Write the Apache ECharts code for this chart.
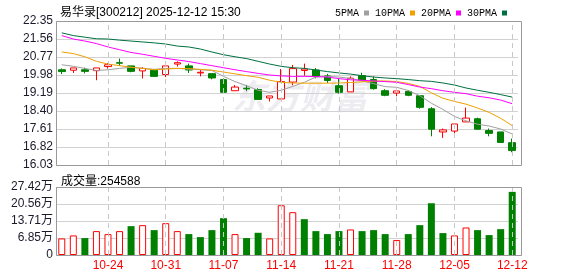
<!DOCTYPE html>
<html><head><meta charset="utf-8">
<script src="https://cdn.jsdelivr.net/npm/echarts@6/dist/echarts.min.js"></script>
<style>html,body{margin:0;padding:0;background:#fff}#c{width:578px;height:276px}</style>
</head><body><div id="c"></div>
<script>
const titleText = '易华录[300212] 2025-12-12 15:30';
const dates = ['10-20','10-21','10-22','10-23','10-24','10-27','10-28','10-29','10-30','10-31',
  '11-03','11-04','11-05','11-06','11-07','11-10','11-11','11-12','11-13','11-14',
  '11-17','11-18','11-19','11-20','11-21','11-24','11-25','11-26','11-27','11-28',
  '12-01','12-02','12-03','12-04','12-05','12-08','12-09','12-10','12-11','12-12'];
// [open, close, low, high]
const candles = [
  [20.21,20.13,20.02,20.27],[20.19,20.29,20.07,20.29],[20.21,20.14,20.05,20.30],[20.17,20.29,19.75,20.29],
  [20.35,20.43,20.26,20.51],[20.52,20.50,20.39,20.70],[20.38,20.14,20.10,20.38],[20.16,20.27,19.83,20.32],
  [20.19,19.92,19.92,20.19],[20.00,20.38,19.89,20.48],[20.46,20.52,20.35,20.58],[20.38,20.20,20.07,20.48],
  [20.07,20.10,19.92,20.20],[20.04,19.85,19.79,20.04],[19.78,19.22,19.22,19.83],[19.29,19.45,19.29,19.54],
  [19.40,19.37,19.27,19.54],[19.34,18.91,18.91,19.40],[18.97,19.06,18.82,19.06],[18.93,19.69,18.93,20.24],
  [19.67,20.26,19.53,20.42],[20.18,20.24,19.95,20.48],[20.20,19.91,19.83,20.29],[19.94,19.74,19.63,20.03],
  [19.51,19.22,19.16,19.83],[19.24,19.84,19.24,19.92],[19.95,19.76,19.71,20.08],[19.78,19.38,19.34,19.92],
  [19.29,19.09,19.05,19.36],[19.19,19.28,19.05,19.31],[19.26,19.09,19.05,19.31],[19.07,18.56,18.50,19.07],
  [18.50,17.60,17.29,18.57],[17.48,17.57,17.22,17.63],[17.52,17.83,17.29,17.83],[17.92,18.09,17.92,18.55],
  [18.06,17.60,17.60,18.11],[17.54,17.42,17.29,17.63],[17.48,17.02,17.02,17.48],[17.01,16.67,16.59,17.19]
];
const ma5 = [20.43,20.36,20.27,20.18,20.21,20.27,20.32,20.27,20.23,20.27,
  20.27,20.24,20.21,20.18,19.92,19.69,19.51,19.31,19.22,19.31,
  19.48,19.66,19.89,19.92,19.89,19.83,19.72,19.60,19.47,19.44,
  19.30,19.07,18.74,18.47,18.16,17.97,17.82,17.74,17.61,17.39];
const ma10 = [20.99,20.92,20.78,20.58,20.46,20.39,20.32,20.27,20.21,20.24,
  20.27,20.26,20.23,20.19,20.11,20.03,19.95,19.88,19.75,19.66,
  19.63,19.62,19.62,19.62,19.63,19.65,19.68,19.71,19.72,19.69,
  19.61,19.48,19.20,18.96,18.82,18.70,18.53,18.34,18.08,17.76];
const ma20 = [21.71,21.56,21.47,21.36,21.21,21.09,20.97,20.89,20.80,20.71,
  20.64,20.57,20.48,20.39,20.30,20.21,20.13,20.05,19.98,19.94,
  19.92,19.92,19.91,19.89,19.82,19.77,19.75,19.72,19.69,19.66,
  19.56,19.45,19.38,19.29,19.22,19.16,19.05,18.98,18.88,18.72];
const ma30 = [21.83,21.71,21.64,21.57,21.56,21.51,21.47,21.43,21.39,21.34,
  21.25,21.21,21.12,20.99,20.87,20.78,20.70,20.58,20.46,20.36,
  20.30,20.27,20.20,20.13,20.07,20.02,19.95,19.89,19.85,19.82,
  19.78,19.73,19.70,19.63,19.54,19.41,19.31,19.22,19.12,19.01];
// volume in 万 (10k shares)
const volumes = [6.69,7.89,6.82,9.63,8.43,9.63,11.64,12.04,10.03,12.84,
  9.63,8.43,7.22,10.03,14.85,8.43,6.82,8.96,6.69,20.06,
  17.26,14.45,9.63,8.43,9.63,10.30,9.63,10.03,8.43,6.02,
  8.43,12.04,20.87,8.83,7.89,11.10,10.03,8.03,10.43,25.4588];
const volUp = [1,1,0,1,1,1,0,1,0,1, 1,0,0,0,0,1,0,0,1,1, 1,0,0,0,0,1,0,0,0,1, 0,0,0,0,1,1,0,0,0,0];
const lastVolume = 254588;
const priceTicks = ['16.03','16.82','17.61','18.40','19.19','19.98','20.77','21.56','22.35'];
const volTicks = ['0','6.85万','13.71万','20.56万','27.42万'];
const volTickValues = [0, 6.855, 13.71, 20.565, 27.42];
const labelDates = ['10-24','10-31','11-07','11-14','11-21','11-28','12-05','12-12'];
const maNames = ['5PMA','10PMA','20PMA','30PMA'];
const maColors = ['#a0a0a0','#f0a000','#ff00ff','#007040'];

const RED = '#ff0000', GREEN = '#008000';
const FONT = "'Liberation Sans','Noto Sans CJK SC',sans-serif";
const MONO = "'Liberation Mono','DejaVu Sans Mono',monospace";
const chart = echarts.init(document.getElementById('c'), null, {renderer: 'canvas'});

const pMin = parseFloat(priceTicks[0]);
const pMax = parseFloat(priceTicks[priceTicks.length - 1]);
const pInt = (pMax - pMin) / (priceTicks.length - 1);

const vlineMark = {
  symbol: ['none', 'none'], silent: true, animation: false,
  label: {show: false},
  lineStyle: {color: '#c8c8c8', type: [5, 4], width: 1},
  data: labelDates.map(d => ({xAxis: d}))
};

const maSeries = [ma5, ma10, ma20, ma30].map((d, i) => ({
  name: maNames[i], type: 'line', data: d, xAxisIndex: 0, yAxisIndex: 0,
  symbol: 'none', smooth: false, animation: false,
  lineStyle: {color: maColors[i], width: 1}, itemStyle: {color: maColors[i]}, z: 3
}));

const option = {
  animation: false,
  backgroundColor: '#fff',
  textStyle: {fontFamily: FONT},
  title: [
    {text: titleText, left: 55, top: 2, textStyle: {fontSize: 12, fontWeight: 'normal', color: '#000', fontFamily: FONT}},
    {text: '成交量:' + lastVolume, left: 56, top: 171, textStyle: {fontSize: 12, fontWeight: 'normal', color: '#000', fontFamily: FONT}}
  ],
  legend: {
    right: 66, top: 3, align: 'right', itemWidth: 5, itemHeight: 5, itemGap: 6,
    textStyle: {fontSize: 10, color: '#000', fontFamily: MONO},
    data: maNames.map((n, i) => ({name: n, icon: 'rect', itemStyle: {color: maColors[i]}})),
    selectedMode: false
  },
  grid: [
    {left: 56, top: 21, width: 462, height: 144},
    {left: 56, top: 187, width: 462, height: 68}
  ],
  xAxis: [
    {type: 'category', data: dates, gridIndex: 0, boundaryGap: true,
      axisLine: {show: false}, axisTick: {show: false}, axisLabel: {show: false}, splitLine: {show: false}},
    {type: 'category', data: dates, gridIndex: 1, boundaryGap: true,
      axisLine: {show: false}, axisTick: {show: false}, splitLine: {show: false},
      axisLabel: {color: RED, fontSize: 12, margin: 5, fontFamily: FONT,
        interval: (i, v) => labelDates.indexOf(v) >= 0, showMaxLabel: true}}
  ],
  yAxis: [
    {type: 'value', gridIndex: 0, min: pMin, max: pMax, interval: pInt, scale: true,
      axisLine: {show: false}, axisTick: {show: false},
      axisLabel: {color: '#1a1a2a', fontSize: 12, margin: 3, fontFamily: FONT,
        formatter: v => {
          const idx = Math.round((v - pMin) / pInt);
          return priceTicks[idx] !== undefined ? priceTicks[idx] : '';
        }},
      splitLine: {show: true, lineStyle: {color: '#d2d2d2', width: 1}}},
    {type: 'value', gridIndex: 1, min: 0, max: volTickValues[4], interval: volTickValues[1],
      axisLine: {show: false}, axisTick: {show: false},
      axisLabel: {color: '#1a1a2a', fontSize: 12, margin: 3, fontFamily: FONT,
        formatter: v => {
          const idx = Math.round(v / volTickValues[1]);
          return volTicks[idx] !== undefined ? volTicks[idx] : '';
        }},
      splitLine: {show: true, lineStyle: {color: '#d2d2d2', width: 1}}}
  ],
  graphic: [
    {type: 'text', left: 232, top: 79, z: -10, silent: true,
      style: {text: '东方财富', fill: '#ededf1', font: "italic bold 34px 'Noto Sans CJK SC'"}},
    {type: 'rect', silent: true, z: 100, shape: {x: 56.5, y: 21.5, width: 465, height: 144},
      style: {fill: 'none', stroke: '#999', lineWidth: 1}},
    {type: 'rect', silent: true, z: 100, shape: {x: 56.5, y: 187.5, width: 465, height: 68},
      style: {fill: 'none', stroke: '#999', lineWidth: 1}}
  ],
  series: [
    {name: 'K', type: 'candlestick', data: candles, xAxisIndex: 0, yAxisIndex: 0,
      barWidth: 7, z: 2,
      itemStyle: {color: '#fff', color0: GREEN, borderColor: RED, borderColor0: GREEN, borderWidth: 1},
      markLine: vlineMark},
    ...maSeries,
    {name: 'VOL', type: 'bar', xAxisIndex: 1, yAxisIndex: 1, barWidth: 7,
      data: volumes.map((v, i) => ({
        value: v,
        itemStyle: volUp[i] ? {color: '#fff', borderColor: RED, borderWidth: 1} : {color: GREEN, borderWidth: 0}
      })),
      markLine: vlineMark}
  ]
};
chart.setOption(option);
</script>
</body></html>
